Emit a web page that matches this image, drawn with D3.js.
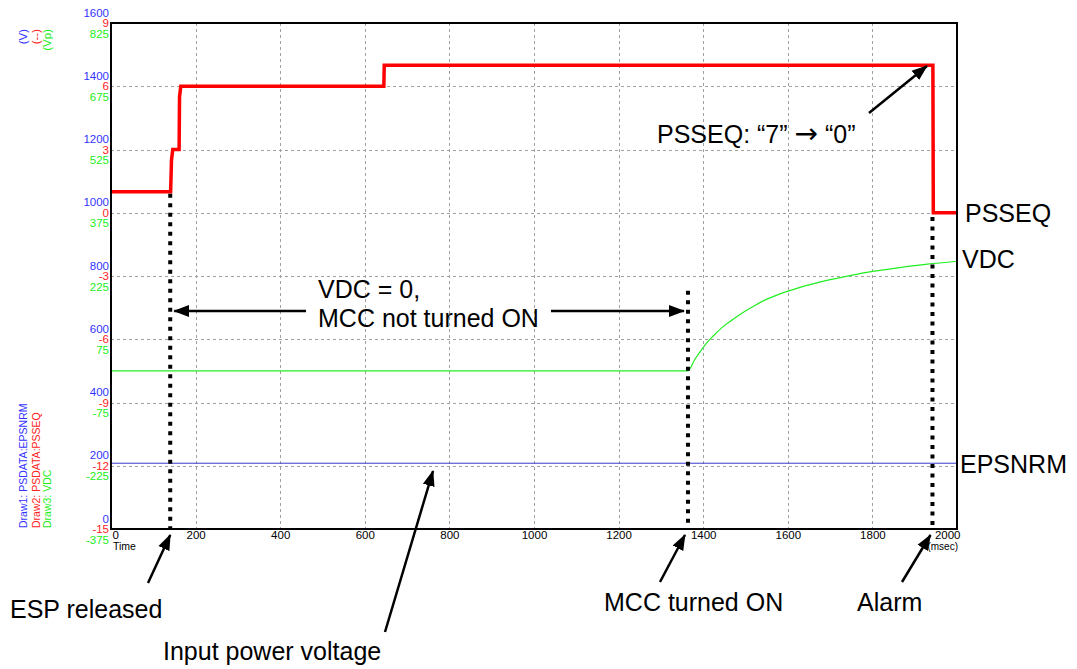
<!DOCTYPE html>
<html><head><meta charset="utf-8">
<script src="https://cdn.jsdelivr.net/npm/d3@7"></script>
<style>
body{margin:0;background:#fff}
svg{display:block}
text{font-family:"Liberation Sans",Arial,Helvetica,sans-serif}
</style>
</head><body>
<svg id="c" width="1077" height="669"></svg>
<script>
// ---------- data ----------
const timeTicks = [0,200,400,600,800,1000,1200,1400,1600,1800,2000];
const voltTicks = [0,200,400,600,800,1000,1200,1400,1600];        // Draw1 (V)
const seqTicks  = [-15,-12,-9,-6,-3,0,3,6,9];                     // Draw2 (--)
const vpTicks   = [-375,-225,-75,75,225,375,525,675,825];         // Draw3 (Vp)
const unitLabels = ["(V)","(--)","(Vp)"];
const legendLabels = ["Draw1: PSDATA:EPSNRM","Draw2: PSDATA:PSSEQ","Draw3: VDC"];

const psseqTime  = [0,141,143,146,161,162,165,645,646,1943,1944,2000];
const psseqValue = [1,1,2.5,3,3,5.5,6,6,7,7,0,0];

const vdcTime  = [0,1364,1380,1396,1408,1425,1447,1470,1495,1520,1542,1580,1629,1690,1747,1800,1865,1930,2000];
const vdcValue = [0,0,27,50,66,84,105,122,139,154,166,182,198,214,226,236,245,253,260];

const epsnrmTime  = [0,2000];
const epsnrmValue = [208,208];

const eventTime = [140,1364,1942];       // ESP released, MCC turned ON, Alarm
const eventTop  = [0.9,-3.7,-0.2];       // top of dotted marker (PSSEQ units)

// ---------- layout ----------
const L = 111, R = 957, T = 23, B = 529;
const svg = d3.select("#c");
svg.append("rect").attr("width",1077).attr("height",669).attr("fill","#fff");

const x = d3.scaleLinear().domain([0,2000]).range([L,R]);
const ySeq = d3.scaleLinear().domain([-15,9]).range([B,T]);
const yVolt = d3.scaleLinear().domain([0,1600]).range([B,T]);
const yVp = d3.scaleLinear().domain([-375,825]).range([B,T]);

const cBlue = "#3333ff", cRed = "#ff2222", cGreen = "#22ee22";

// grid
const grid = svg.append("g").attr("stroke","#a0a0a0").attr("stroke-width",1).attr("stroke-dasharray","3,3");
grid.selectAll("line.v").data(timeTicks.slice(1,-1)).join("line")
  .attr("x1",d=>Math.round(x(d))+0.5).attr("x2",d=>Math.round(x(d))+0.5)
  .attr("y1",T).attr("y2",B);
grid.selectAll("line.h").data(seqTicks.slice(1,-1)).join("line")
  .attr("y1",d=>Math.round(ySeq(d))+0.5).attr("y2",d=>Math.round(ySeq(d))+0.5)
  .attr("x1",L).attr("x2",R);

// series
const line = (xs, ys, yScale, curve) => d3.line().curve(curve || d3.curveLinear)
  .x((d,i)=>x(xs[i])).y((d,i)=>yScale(ys[i]))(xs);

svg.append("path").attr("d", line(epsnrmTime, epsnrmValue, yVolt))
  .attr("fill","none").attr("stroke","#3a3ad0").attr("stroke-width",1);
svg.append("path").attr("d", line(vdcTime, vdcValue, yVp, d3.curveMonotoneX))
  .attr("fill","none").attr("stroke","#22ee22").attr("stroke-width",1.2);
svg.append("path").attr("d", line(psseqTime, psseqValue, ySeq))
  .attr("fill","none").attr("stroke","#ff0000").attr("stroke-width",3.5).attr("stroke-linejoin","miter");

// event dotted markers
svg.append("g").selectAll("line").data(eventTime).join("line")
  .attr("x1",d=>x(d)).attr("x2",d=>x(d))
  .attr("y1",(d,i)=>ySeq(eventTop[i])).attr("y2",B)
  .attr("stroke","#000").attr("stroke-width",4).attr("stroke-dasharray","4,5.5");

// frame
svg.append("rect").attr("x",L).attr("y",T).attr("width",R-L).attr("height",B-T)
  .attr("fill","none").attr("stroke","#000").attr("stroke-width",2);

// left labels (three scales)
function leftAxis(scale, ticks, color, yoff){
  const g = svg.append("g").attr("transform",`translate(${L-1},0)`)
    .call(d3.axisLeft(scale).tickValues(ticks).tickSize(0).tickPadding(1).tickFormat(d=>String(d)));
  g.select(".domain").remove();
  g.selectAll("text").attr("fill",color).attr("font-size",11.5)
    .attr("font-family","'Liberation Sans',Arial,sans-serif").attr("y",yoff);
}
leftAxis(yVolt, voltTicks, cBlue, -10.5);
leftAxis(ySeq, seqTicks, cRed, 0);
leftAxis(yVp, vpTicks, cGreen, 10.5);

// bottom axis
const gx = svg.append("g").attr("transform",`translate(0,${B})`)
  .call(d3.axisBottom(x).tickValues(timeTicks).tickSize(0).tickPadding(2).tickFormat(d=>String(d)));
gx.select(".domain").remove();
gx.selectAll("text").attr("fill","#000").attr("font-size",11.5)
  .attr("font-family","'Liberation Sans',Arial,sans-serif")
  .attr("text-anchor",d=>d===0?"start":(d===2000?"end":"middle"))
  .attr("dx",d=>d===0?1:(d===2000?3:0));
svg.append("text").attr("x",L+2).attr("y",550).attr("font-size",10.5).text("Time");
svg.append("text").attr("x",R+1).attr("y",550).attr("font-size",10).attr("text-anchor","end").text("(msec)");

// unit labels (rotated) and legend
const colX = [27,40,51], colC = [cBlue,cRed,cGreen];
unitLabels.forEach((t,i)=>{
  svg.append("text").attr("transform",`translate(${colX[i]},29) rotate(-90)`)
    .attr("text-anchor","end").attr("font-size",11.5).attr("fill",colC[i]).text(t);
});
legendLabels.forEach((t,i)=>{
  svg.append("text").attr("transform",`translate(${colX[i]},528) rotate(-90)`)
    .attr("text-anchor","start").attr("font-size",10.5).attr("fill",colC[i]).text(t);
});

// arrows
const defs = svg.append("defs");
defs.append("marker").attr("id","ah").attr("markerUnits","userSpaceOnUse")
  .attr("viewBox","0 -7 16 14").attr("markerWidth",16).attr("markerHeight",14)
  .attr("refX",15).attr("refY",0).attr("orient","auto")
  .append("path").attr("d","M0,-6L16,0L0,6Z").attr("fill","#000");
function arrow(x1,y1,x2,y2){
  svg.append("line").attr("x1",x1).attr("y1",y1).attr("x2",x2).attr("y2",y2)
    .attr("stroke","#000").attr("stroke-width",2.5).attr("marker-end","url(#ah)");
}
arrow(148,583, x(eventTime[0]),535);
arrow(385,632, 433,471);
arrow(660,582, x(eventTime[1])-3,535);
arrow(902,582, x(eventTime[2])-2,535);
arrow(869,113, 927,66);
arrow(306,311, x(eventTime[0])+4,311);
arrow(551,311, x(eventTime[1])-4,311);

// annotation text
const big = (tx,ty,s)=>svg.append("text").attr("x",tx).attr("y",ty).attr("font-size",25).attr("fill","#000").text(s);
big(965,222,"PSSEQ");
big(962,268,"VDC");
big(960,473,"EPSNRM");
const ps = big(657,143,"PSSEQ:  \u201C7\u201D ");
ps.append("tspan").attr("font-family","'DejaVu Sans',sans-serif").attr("font-size",28).text("\u2192");
ps.append("tspan").text(" \u201C0\u201D");
big(318,298,"VDC = 0,");
big(318,327,"MCC not turned ON");
big(10,618,"ESP released");
big(163,660,"Input power voltage");
big(604,611,"MCC turned ON");
big(857,611,"Alarm");
</script>
</body></html>
